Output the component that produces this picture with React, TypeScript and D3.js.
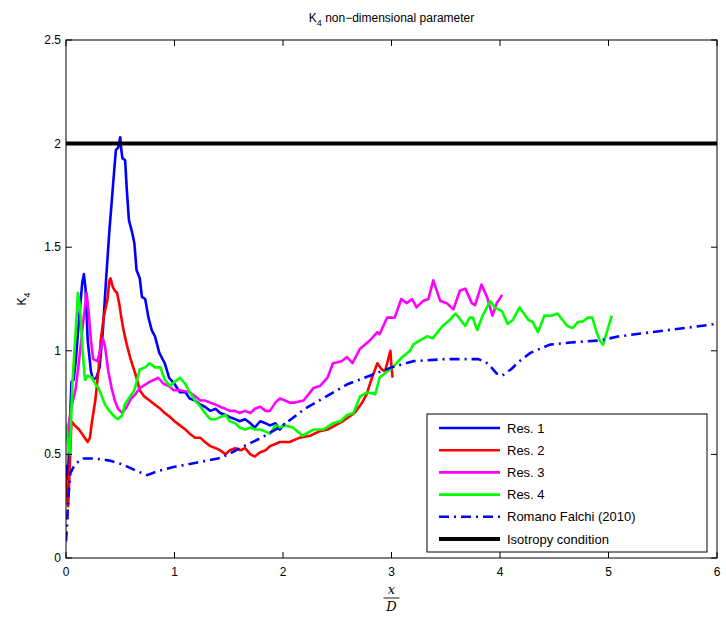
import React from "react";
import * as d3 from "d3";

// Res. 1
const res1X = [0, 0.01, 0.02, 0.035, 0.05, 0.07, 0.09, 0.12, 0.15, 0.165, 0.18, 0.2, 0.23, 0.25, 0.28, 0.31, 0.34, 0.37, 0.4, 0.435, 0.46, 0.48, 0.5, 0.51, 0.52, 0.545, 0.56, 0.58, 0.61, 0.63, 0.65, 0.68, 0.7, 0.73, 0.76, 0.79, 0.82, 0.86, 0.91, 0.95, 1.0, 1.05, 1.1, 1.14, 1.19, 1.24, 1.28, 1.33, 1.38, 1.42, 1.47, 1.51, 1.56, 1.6, 1.65, 1.7, 1.74, 1.79, 1.84, 1.88, 1.93, 1.97, 2.02];
const res1Y = [0.45, 0.38, 0.42, 0.62, 0.85, 0.86, 0.95, 1.15, 1.33, 1.37, 1.3, 1.05, 0.9, 0.86, 0.87, 0.92, 1.1, 1.35, 1.58, 1.81, 1.97, 1.98, 2.03, 1.97, 1.93, 1.92, 1.78, 1.63, 1.57, 1.52, 1.39, 1.35, 1.26, 1.25, 1.16, 1.1, 1.07, 0.99, 0.94, 0.87, 0.84, 0.8, 0.8, 0.77, 0.76, 0.74, 0.73, 0.71, 0.72, 0.7, 0.69, 0.68, 0.67, 0.66, 0.67, 0.65, 0.63, 0.66, 0.65, 0.64, 0.65, 0.62, 0.65];

// Res. 2
const res2X = [0, 0.01, 0.02, 0.035, 0.05, 0.08, 0.12, 0.16, 0.2, 0.22, 0.24, 0.27, 0.3, 0.32, 0.35, 0.38, 0.4, 0.41, 0.43, 0.45, 0.47, 0.49, 0.51, 0.53, 0.56, 0.59, 0.62, 0.65, 0.68, 0.72, 0.77, 0.82, 0.87, 0.91, 0.96, 1.0, 1.05, 1.1, 1.14, 1.19, 1.24, 1.28, 1.33, 1.38, 1.42, 1.47, 1.51, 1.56, 1.61, 1.65, 1.7, 1.74, 1.79, 1.84, 1.88, 1.93, 1.97, 2.06, 2.15, 2.25, 2.33, 2.41, 2.55, 2.66, 2.73, 2.77, 2.82, 2.87, 2.91, 2.94, 2.96, 2.99, 3.0, 3.01];
const res2Y = [0.4, 0.3, 0.25, 0.45, 0.66, 0.64, 0.62, 0.59, 0.56, 0.58, 0.66, 0.76, 0.91, 1.05, 1.17, 1.24, 1.34, 1.35, 1.31, 1.29, 1.28, 1.23, 1.16, 1.1, 1.03, 0.97, 0.92, 0.87, 0.81, 0.78, 0.76, 0.74, 0.72, 0.7, 0.68, 0.66, 0.64, 0.62, 0.6, 0.58, 0.58, 0.56, 0.54, 0.53, 0.52, 0.5, 0.52, 0.53, 0.52, 0.53, 0.5, 0.49, 0.51, 0.52, 0.54, 0.55, 0.56, 0.56, 0.58, 0.59, 0.61, 0.62, 0.66, 0.7, 0.75, 0.79, 0.87, 0.94, 0.91, 0.9, 0.94, 1.0, 0.92, 0.87];

// Res. 3
const res3X = [0, 0.02, 0.04, 0.06, 0.09, 0.12, 0.15, 0.19, 0.21, 0.23, 0.25, 0.29, 0.31, 0.34, 0.36, 0.39, 0.42, 0.45, 0.48, 0.52, 0.56, 0.6, 0.64, 0.68, 0.77, 0.85, 0.9, 0.95, 0.99, 1.05, 1.14, 1.19, 1.24, 1.28, 1.33, 1.38, 1.42, 1.47, 1.51, 1.56, 1.6, 1.65, 1.7, 1.74, 1.79, 1.84, 1.88, 1.93, 1.97, 2.02, 2.06, 2.11, 2.19, 2.28, 2.34, 2.41, 2.46, 2.54, 2.59, 2.64, 2.71, 2.8, 2.87, 2.89, 2.96, 3.03, 3.09, 3.14, 3.19, 3.23, 3.29, 3.34, 3.385, 3.45, 3.51, 3.57, 3.63, 3.68, 3.74, 3.77, 3.83, 3.88, 3.93, 3.97, 4.02];
const res3Y = [0.58, 0.62, 0.7, 0.75, 0.82, 0.95, 1.1, 1.28, 1.18, 1.05, 0.96, 0.95, 0.99, 1.06, 1.02, 0.9, 0.82, 0.76, 0.72, 0.7, 0.73, 0.77, 0.79, 0.82, 0.85, 0.87, 0.84, 0.83, 0.81, 0.81, 0.8, 0.78, 0.76, 0.76, 0.75, 0.74, 0.73, 0.72, 0.71, 0.71, 0.7, 0.71, 0.7, 0.72, 0.73, 0.71, 0.71, 0.75, 0.77, 0.76, 0.75, 0.75, 0.76, 0.82, 0.83, 0.87, 0.94, 0.95, 0.97, 0.94, 1.01, 1.05, 1.09, 1.08, 1.16, 1.16, 1.25, 1.23, 1.25, 1.21, 1.24, 1.25, 1.34, 1.24, 1.23, 1.2, 1.29, 1.3, 1.23, 1.22, 1.32, 1.26, 1.17, 1.23, 1.27];

// Res. 4
const res4X = [0, 0.02, 0.035, 0.06, 0.09, 0.11, 0.13, 0.15, 0.175, 0.2, 0.24, 0.27, 0.3, 0.33, 0.36, 0.4, 0.45, 0.48, 0.52, 0.54, 0.59, 0.63, 0.68, 0.73, 0.77, 0.82, 0.87, 0.91, 0.96, 1.0, 1.05, 1.1, 1.14, 1.19, 1.24, 1.28, 1.33, 1.38, 1.42, 1.47, 1.51, 1.56, 1.6, 1.65, 1.7, 1.74, 1.79, 1.84, 1.88, 1.93, 1.97, 2.02, 2.09, 2.18, 2.28, 2.37, 2.46, 2.53, 2.59, 2.65, 2.71, 2.78, 2.85, 2.89, 2.96, 3.01, 3.1, 3.17, 3.2, 3.26, 3.33, 3.38, 3.47, 3.54, 3.59, 3.68, 3.72, 3.75, 3.79, 3.84, 3.91, 3.95, 4.02, 4.07, 4.12, 4.18, 4.26, 4.3, 4.35, 4.41, 4.48, 4.53, 4.62, 4.67, 4.72, 4.76, 4.81, 4.85, 4.89, 4.92, 4.95, 4.99, 5.03];
const res4Y = [0.65, 0.55, 0.5, 0.85, 1.1, 1.28, 1.21, 1.02, 0.86, 0.88, 0.87, 0.84, 0.82, 0.78, 0.74, 0.71, 0.68, 0.67, 0.69, 0.74, 0.78, 0.81, 0.91, 0.92, 0.94, 0.92, 0.92, 0.86, 0.83, 0.85, 0.87, 0.84, 0.8, 0.76, 0.73, 0.7, 0.67, 0.67, 0.68, 0.69, 0.66, 0.65, 0.63, 0.62, 0.63, 0.62, 0.62, 0.61, 0.6, 0.64, 0.63, 0.64, 0.63, 0.59, 0.62, 0.62, 0.65, 0.66, 0.69, 0.7, 0.78, 0.8, 0.79, 0.87, 0.9, 0.92, 0.97, 1.0, 1.03, 1.05, 1.07, 1.06, 1.12, 1.15, 1.18, 1.12, 1.16, 1.16, 1.1, 1.17, 1.24, 1.21, 1.19, 1.13, 1.15, 1.21, 1.15, 1.14, 1.09, 1.17, 1.17, 1.18, 1.12, 1.11, 1.14, 1.14, 1.16, 1.16, 1.09, 1.05, 1.03, 1.1, 1.17];

// Romano Falchi (2010)
const refX = [0, 0.01, 0.02, 0.04, 0.07, 0.1, 0.16, 0.25, 0.32, 0.4, 0.5, 0.57, 0.65, 0.75, 0.85, 1.0, 1.2, 1.4, 1.5, 1.6, 1.8, 2.0, 2.2, 2.4, 2.6, 2.8, 3.0, 3.2, 3.5, 3.8, 3.87, 3.92, 3.97, 4.02, 4.1, 4.18, 4.28, 4.37, 4.46, 4.65, 4.92, 5.1, 6.0];
const refY = [0.08, 0.16, 0.28, 0.41, 0.44, 0.46, 0.48, 0.48, 0.477, 0.47, 0.455, 0.44, 0.42, 0.4, 0.42, 0.44, 0.46, 0.48, 0.5, 0.53, 0.58, 0.64, 0.72, 0.78, 0.84, 0.88, 0.92, 0.95, 0.96, 0.96, 0.945, 0.92, 0.89, 0.88, 0.91, 0.95, 0.99, 1.01, 1.03, 1.04, 1.05, 1.07, 1.13];

// Isotropy condition
const isoX = [0, 6];
const isoY = [2, 2];

const xTicks = [0, 1, 2, 3, 4, 5, 6];
const yTicks = [0, 0.5, 1, 1.5, 2, 2.5];
const legendLabels = ["Res. 1", "Res. 2", "Res. 3", "Res. 4", "Romano Falchi (2010)", "Isotropy condition"];

const W = 726;
const H = 621;
const M = { left: 66, right: 9, top: 40, bottom: 63 };
const FONT = "'Liberation Sans', Arial, Helvetica, sans-serif";

type S = { xs: number[]; ys: number[]; color: string; width: number; dash?: string };

const series: S[] = [
  { xs: res1X, ys: res1Y, color: "#0000ff", width: 2.6 },
  { xs: res2X, ys: res2Y, color: "#ff0000", width: 2.6 },
  { xs: res3X, ys: res3Y, color: "#ff00ff", width: 2.6 },
  { xs: res4X, ys: res4Y, color: "#00ff00", width: 2.6 },
  { xs: refX, ys: refY, color: "#0000ff", width: 2.6, dash: "10,5,2,5" },
  { xs: isoX, ys: isoY, color: "#000000", width: 4 },
];

export default function App() {
  const x = d3.scaleLinear().domain([0, 6]).range([M.left, W - M.right]);
  const y = d3.scaleLinear().domain([0, 2.5]).range([H - M.bottom, M.top]);
  const line = d3
    .line<[number, number]>()
    .x((d) => x(d[0]))
    .y((d) => y(d[1]));

  const x0 = x(0), x1 = x(6), y0 = y(0), y1 = y(2.5);
  const tl = 6;

  const legX = 427, legY = 414, legW = 280, legH = 138;
  const rowH = 22.2;

  return (
    <svg width={W} height={H} style={{ position: "absolute", left: 0, top: 0, background: "#fff" }} fontFamily={FONT}>
      <rect x={0} y={0} width={W} height={H} fill="#fff" />
      <defs>
        <clipPath id="plotArea">
          <rect x={x0} y={y1} width={x1 - x0} height={y0 - y1} />
        </clipPath>
      </defs>

      {/* data lines */}
      <g clipPath="url(#plotArea)">
        {series.map((s, i) => (
          <path
            key={i}
            d={line(s.xs.map((v, j) => [v, s.ys[j]] as [number, number])) || ""}
            fill="none"
            stroke={s.color}
            strokeWidth={s.width}
            strokeDasharray={s.dash}
            strokeLinejoin="round"
          />
        ))}
      </g>

      {/* frame and ticks */}
      <rect x={x0} y={y1} width={x1 - x0} height={y0 - y1} fill="none" stroke="#000" strokeWidth={1} />
      {xTicks.map((t) => (
        <g key={"xt" + t}>
          <line x1={x(t)} x2={x(t)} y1={y0} y2={y0 - tl} stroke="#000" />
          <line x1={x(t)} x2={x(t)} y1={y1} y2={y1 + tl} stroke="#000" />
          <text x={x(t)} y={y0 + 18} textAnchor="middle" fontSize={12}>
            {t}
          </text>
        </g>
      ))}
      {yTicks.map((t) => (
        <g key={"yt" + t}>
          <line x1={x0} x2={x0 + tl} y1={y(t)} y2={y(t)} stroke="#000" />
          <line x1={x1} x2={x1 - tl} y1={y(t)} y2={y(t)} stroke="#000" />
          <text x={x0 - 5} y={y(t) + 4} textAnchor="end" fontSize={12}>
            {t}
          </text>
        </g>
      ))}

      {/* title */}
      <text x={(x0 + x1) / 2} y={22} textAnchor="middle" fontSize={12}>
        K<tspan dy={4} fontSize={9}>4</tspan>
        <tspan dy={-4}> non−dimensional parameter</tspan>
      </text>

      {/* y label */}
      <text transform={`translate(26, ${(y0 + y1) / 2}) rotate(-90)`} textAnchor="middle" fontSize={12}>
        K<tspan dy={4} fontSize={9}>4</tspan>
      </text>

      {/* x label: x over D */}
      <g fontFamily="'DejaVu Serif', 'Liberation Serif', serif" fontStyle="italic" fontSize={13}>
        <text x={x(3)} y={594} textAnchor="middle">x</text>
        <line x1={x(3) - 8} x2={x(3) + 8} y1={598} y2={598} stroke="#000" strokeWidth={0.9} />
        <text x={x(3)} y={611} textAnchor="middle">D</text>
      </g>

      {/* legend */}
      <rect x={legX} y={legY} width={legW} height={legH} fill="#fff" stroke="#000" strokeWidth={1} />
      {series.map((s, i) => {
        const cy = legY + 14 + i * rowH;
        return (
          <g key={"lg" + i}>
            <line
              x1={legX + 12}
              x2={legX + 73}
              y1={cy}
              y2={cy}
              stroke={s.color}
              strokeWidth={s.width}
              strokeDasharray={s.dash}
            />
            <text x={legX + 80} y={cy + 4.5} fontSize={13}>
              {legendLabels[i]}
            </text>
          </g>
        );
      })}
    </svg>
  );
}
